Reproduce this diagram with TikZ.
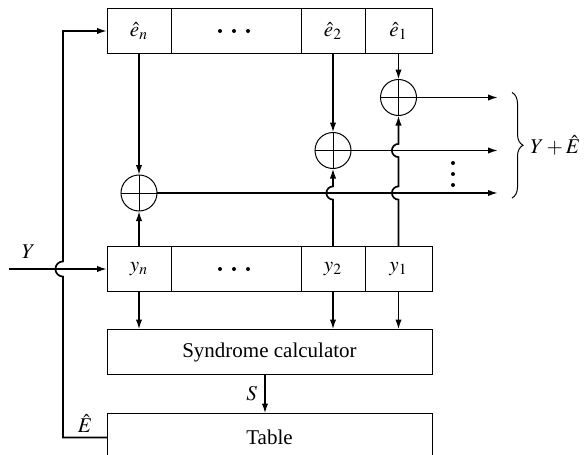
\documentclass[tikz,border=0pt]{standalone}
\usepackage{mathptmx}
\usepackage{fontspec}
\setmainfont{Liberation Serif}
\usetikzlibrary{positioning}
\usetikzlibrary{arrows.meta}
\usetikzlibrary{calc}
\usetikzlibrary{decorations.pathreplacing}
\tikzset{
  celda/.style={
    rectangle, draw, line width=0.5pt, minimum height=22.5pt,
    inner sep=0pt, outer sep=0pt, font=\fontsize{10.5}{12}\selectfont
  },
  bloque/.style={
    rectangle, draw, line width=0.5pt, minimum width=162.5pt,
    minimum height=22.5pt, inner sep=0pt, outer sep=0pt,
    font=\fontsize{10.5}{12}\selectfont
  },
  sumador/.style={
    circle, draw, line width=0.5pt, minimum size=18pt, inner sep=0pt, outer sep=0pt,
    path picture={\draw[line width=0.4pt]
      (path picture bounding box.north) -- (path picture bounding box.south)
      (path picture bounding box.west) -- (path picture bounding box.east);}
  },
  flecha/.style={-{Latex[length=5pt,width=3.2pt]}, line width=0.85pt},
  etiqueta/.style={font=\fontsize{10.5}{12}\selectfont, inner sep=1pt},
  llave/.style={decorate, decoration={brace, amplitude=5.5pt}, line width=0.5pt}
}
\begin{document}
\begin{tikzpicture}[x=0.5pt, y=-0.5pt, node distance=0pt]
  \useasboundingbox (0,0) rectangle (585,455);
  \clip (0,0) rectangle (585,455);
  % registro de errores
  \node[celda, minimum width=32pt] (en) at (139,31) {$\hat{e}_n$};
  \node[celda, minimum width=65pt, right=0pt of en] (ep) {};
  \node[celda, minimum width=32pt, right=0pt of ep] (e2) {$\hat{e}_2$};
  \node[celda, minimum width=33.5pt, right=0pt of e2] (e1) {$\hat{e}_1$};
  % registro recibido
  \node[celda, minimum width=32pt, below=96.5pt of en] (yn) {$y_n$};
  \node[celda, minimum width=65pt, right=0pt of yn] (yp) {};
  \node[celda, minimum width=32pt, right=0pt of yp] (y2) {$y_2$};
  \node[celda, minimum width=33.5pt, right=0pt of y2] (y1) {$y_1$};
  \foreach \k in {-1,0,1} {
    \fill ([xshift={7pt*\k-1pt}]ep.center) circle (1pt);
    \fill ([xshift={7pt*\k-1pt}]yp.center) circle (1pt);
  }
  % bloques
  \node[bloque, below=19pt of yn.south west, anchor=north west] (sind) {Syndrome calculator};
  \node[bloque, minimum height=24pt, below=19.5pt of sind] (tabla) {Table};
  % sumadores
  \node[sumador, below=13pt of e1] (s1) {};
  \node[sumador, below=39.5pt of e2] (s2) {};
  \node[sumador, below=60.75pt of en] (sn) {};
  \coordinate (salida) at (498,0);
  \coordinate (izq) at (63,0);
  \coordinate (entrada) at (9,0);
  % conexiones
  \draw[flecha] (en) -- (sn);
  \draw[flecha] (e2) -- (s2);
  \draw[flecha] (e1) -- (s1);
  \draw[flecha] (yn) -- (sn);
  \draw[flecha] (y2.north) -- ($(y2.north |- sn)+(0,-3.3pt)$)
    arc[start angle=270, end angle=90, radius=3.3pt] -- (s2);
  \draw[flecha] (y1.north) -- ($(y1.north |- sn)+(0,-3.3pt)$)
    arc[start angle=270, end angle=90, radius=3.3pt] -- ($(y1.north |- s2)+(0,-3.3pt)$)
    arc[start angle=270, end angle=90, radius=3.3pt] -- (s1);
  \draw[flecha] (s1) -- (s1 -| salida);
  \draw[flecha] (s2) -- (s2 -| salida);
  \draw[flecha] (sn) -- (sn -| salida);
  \foreach \k in {0,1,2}
    \fill (453,{163+11*\k}) circle (1pt);
  \draw[llave] ([shift={(7pt,2.5pt)}]s1 -| salida) -- node[etiqueta, right=8pt] {$Y+\hat{E}$}
    ([shift={(7pt,-2.5pt)}]sn -| salida);
  \draw[flecha] (yn) -- (yn |- sind.north);
  \draw[flecha] (y2) -- (y2 |- sind.north);
  \draw[flecha] (y1) -- (y1 |- sind.north);
  \draw[flecha] (entrada |- yn) -- node[etiqueta, pos=0.2, above=4pt] {$Y$} (yn.west);
  \draw[flecha] (tabla.west) -- node[etiqueta, above=1pt] {$\hat{E}$} (tabla.west -| izq)
    -- ($(izq |- yn)+(0,-3.8pt)$) arc[start angle=270, end angle=90, radius=3.8pt]
    -- (izq |- en) -- (en);
  \draw[flecha] ([xshift=-2.25pt]sind.south) -- node[etiqueta, left=2.5pt] {$S$}
    ([xshift=-2.25pt]tabla.north);
\end{tikzpicture}
\end{document}
